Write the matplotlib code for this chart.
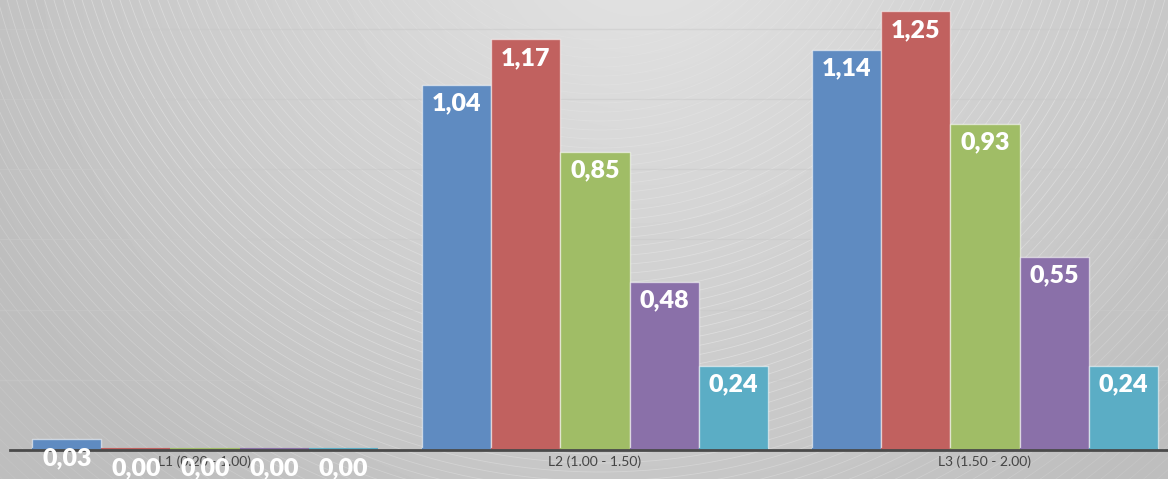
import numpy as np
import matplotlib.pyplot as plt

# ==========================================
# Data
# ==========================================

categories = ["L1 (0.20 - 1.00)", "L2 (1.00 - 1.50)", "L3 (1.50 - 2.00)"]

s1 = [0.03, 1.04, 1.14]
s2 = [0.00, 1.17, 1.25]
s3 = [0.00, 0.85, 0.93]
s4 = [0.00, 0.48, 0.55]
s5 = [0.00, 0.24, 0.24]

series = [s1, s2, s3, s4, s5]
colors = ["#5f8bc1", "#c1615f", "#a0bd66", "#8a70a9", "#5badc5"]

plt.rcParams["font.family"] = ["Lato", "DejaVu Sans"]

W, H = 1168, 479
fig = plt.figure(figsize=(W / 100, H / 100), dpi=100)

# ==========================================
# Background: radial gray gradient + arcs
# ==========================================

bg = fig.add_axes([0, 0, 1, 1], zorder=0)
yy, xx = np.mgrid[0:H, 0:W]
r = np.sqrt((xx - 640) ** 2 + (yy + 80) ** 2)
t = np.clip(r / 720, 0, 1)
shade = 0.895 - 0.15 * t
bg.imshow(shade, cmap="gray", vmin=0, vmax=1, extent=(0, W, H, 0), aspect="auto")

theta = np.linspace(0, np.pi, 600)
cx, cy = 600, -160
for rad in np.arange(200, 950, 9):
    a = 0.32 * max(0.0, 1 - abs(rad - 520) / 450)
    bg.plot(cx + rad * np.cos(theta), cy + rad * np.sin(theta),
            color="white", lw=0.6, alpha=a)
bg.set_xlim(0, W)
bg.set_ylim(H, 0)
bg.axis("off")

# ==========================================
# Bars
# ==========================================

ax = fig.add_axes([0, 0, 1, 1], zorder=1)
ax.patch.set_alpha(0)

x = np.arange(len(categories))
width = 0.177

px = 351.0
ax.set_ylim(-(H - 450) / px, 450 / px)
ax.set_xlim(-205 / 390, (W - 205) / 390)

for gy in np.arange(0.2, 1.3, 0.2):
    ax.axhline(gy, color="#c9c9c9", lw=1, alpha=0.5, zorder=1)

for k, (vals, c) in enumerate(zip(series, colors)):
    pos = x + (k - 2) * width
    ax.bar(pos, vals, width=width, color=c, edgecolor=(1, 1, 1, 0.55),
           linewidth=1, zorder=2)
    ax.hlines([0.003] * len(pos), pos - width / 2, pos + width / 2,
              color=c, lw=1.5, zorder=2)
    for p, v in zip(pos, vals):
        ax.annotate(f"{v:.2f}".replace(".", ","), (p, v),
                    xytext=(0, -13.5), textcoords="offset points",
                    ha="center", va="center", color="white",
                    fontsize=18, fontweight="heavy", zorder=5)

ax.plot([-0.5, 2.6], [0, 0], color="#4a4a4a", lw=2, zorder=3)

for xi, lab in zip(x, categories):
    ax.text(xi, -12 / px, lab, ha="center", va="center",
            fontsize=10, color="#444444", zorder=4)

ax.axis("off")

fig.savefig("out.png", dpi=100)
